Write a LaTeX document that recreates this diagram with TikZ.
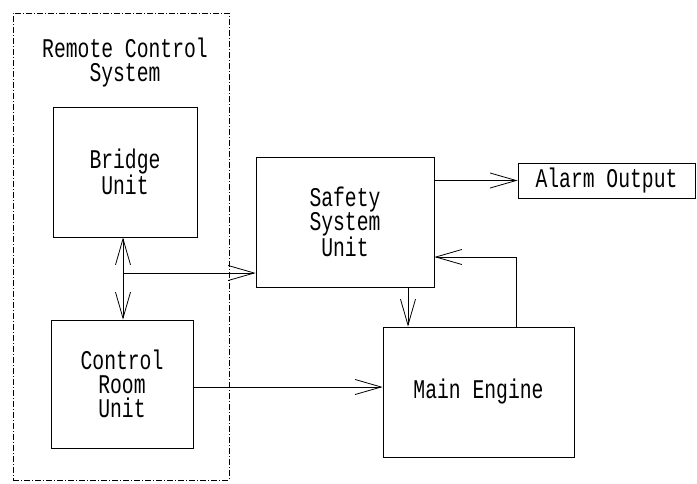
\documentclass[tikz,border=0pt]{standalone}
\usepackage{fontspec}
\setmainfont{Liberation Mono}[FakeStretch=0.73]
\usetikzlibrary{arrows.meta}
\begin{document}
\begin{tikzpicture}[x=1pt,y=-1pt,
  font=\fontsize{27}{24}\selectfont,
  box/.style={draw,line width=0.8pt,align=center,inner sep=0pt},
  grp/.style={draw,line width=0.5pt,dash pattern=on 6pt off 2pt on 1pt off 2pt,inner sep=0pt},
  arr/.style={line width=0.8pt,-{Straight Barb[length=26pt,width=15pt,line width=0.8pt]}},
  biarr/.style={line width=0.8pt,{Straight Barb[length=26pt,width=15pt,line width=0.8pt]}-{Straight Barb[length=26pt,width=15pt,line width=0.8pt]}}]
\useasboundingbox (0,0) rectangle (697,483);
\node[grp,minimum width=216pt,minimum height=467pt] (rcs) at (121,246.5) {};
\node[align=center] (title) at (125,63) {Remote Control\\System};
\node[box,minimum width=144pt,minimum height=130pt] (bridge) at (125,172) {Bridge\\Unit};
\node[box,minimum width=142pt,minimum height=128pt] (cr) at (122,384) {Control\\Room\\Unit};
\node[box,minimum width=178pt,minimum height=130pt] (safety) at (345,222) {Safety\\System\\Unit};
\node[box,minimum width=177pt,minimum height=35pt] (alarm) at (606.5,180.5) {Alarm Output};
\node[box,minimum width=191pt,minimum height=130pt] (me) at (478.5,392) {Main Engine};
\coordinate (bx) at (123,0);
\coordinate (br) at (123,273);
\coordinate (dx) at (408,0);
\coordinate (fb) at (516,257);
\coordinate (cm) at (0,387);
\draw[biarr] (bridge.south -| bx) -- (cr.north -| bx);
\draw[arr] (br) -- (safety.west |- br);
\draw[arr] (alarm.west -| safety.east) -- (alarm.west);
\draw[arr] (safety.south -| dx) -- (me.north -| dx);
\draw[arr] (me.north -| fb) |- (safety.east |- fb);
\draw[arr] (cr.east |- cm) -- (me.west |- cm);
\end{tikzpicture}
\end{document}
